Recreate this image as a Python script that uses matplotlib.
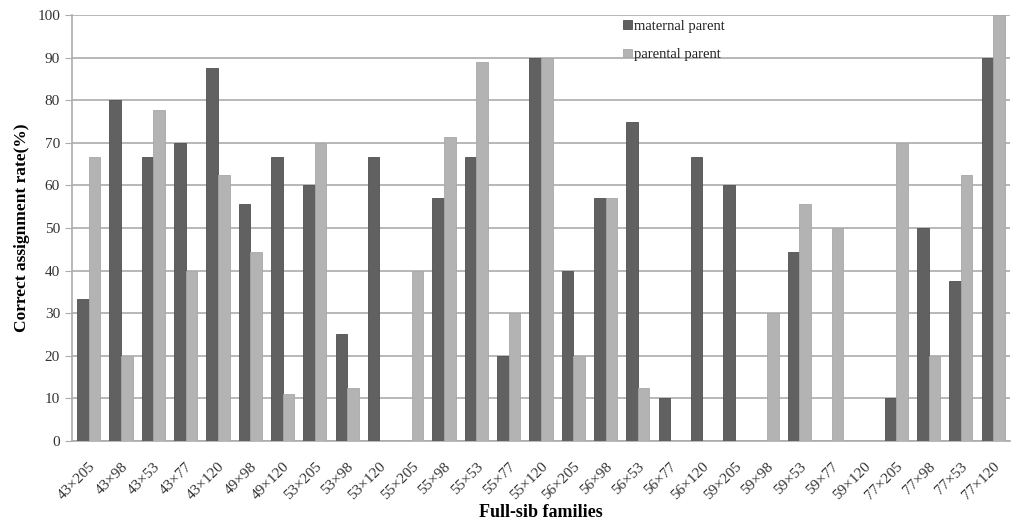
import matplotlib
matplotlib.use("Agg")
import matplotlib.pyplot as plt
import numpy as np

families = ['43×205', '43×98', '43×53', '43×77', '43×120', '49×98', '49×120',
            '53×205', '53×98', '53×120', '55×205', '55×98', '55×53', '55×77',
            '55×120', '56×205', '56×98', '56×53', '56×77', '56×120', '59×205',
            '59×98', '59×53', '59×77', '59×120', '77×205', '77×98', '77×53',
            '77×120']
maternal = [33.3, 80, 66.7, 70, 87.5, 55.6, 66.7, 60, 25, 66.7, 0, 57.1, 66.7, 20,
            90, 40, 57.1, 75, 10, 66.7, 60, 0, 44.4, 0, 0, 10, 50, 37.5, 90]
parental = [66.7, 20, 77.8, 40, 62.5, 44.4, 11.1, 70, 12.5, 0, 40, 71.4, 88.9, 30,
            90, 20, 57.1, 12.5, 0, 0, 0, 30, 55.6, 50, 0, 70, 20, 62.5, 100]

plt.rcParams['font.family'] = ['Liberation Serif', 'DejaVu Serif']

fig = plt.figure(figsize=(10.13, 5.23), dpi=100)
ax = fig.add_axes([0.071, 0.157, 0.926, 0.814])

x = np.arange(len(families))
w = 0.36
ax.bar(x - w / 2, maternal, w, color='#616161', edgecolor='#505050', linewidth=0.6,
       label='maternal parent', zorder=3)
ax.bar(x + w / 2, parental, w, color='#b3b3b3', edgecolor='#a8a8a8', linewidth=0.6,
       label='parental parent', zorder=3)

ax.set_xlim(-0.52, len(families) - 0.48)
ax.set_ylim(0, 100)
ax.set_yticks(range(0, 101, 10))
ax.yaxis.grid(True, color='#ababab', linewidth=1.2, zorder=0)
ax.set_axisbelow(True)
ax.set_xticks(x)
ax.set_xticklabels(families, rotation=45, ha='right', rotation_mode='anchor',
                   fontsize=11, color='#333333')
ax.tick_params(axis='x', length=0, pad=14)
ax.tick_params(axis='y', length=5, color='#ababab', labelsize=11, labelcolor='#333333')

for s in ['top', 'right']:
    ax.spines[s].set_visible(False)
ax.spines['left'].set_color('#ababab')
ax.spines['bottom'].set_color('#ababab')
ax.spines['left'].set_linewidth(1.2)
ax.spines['bottom'].set_linewidth(1.2)

ax.set_ylabel('Correct assignment rate(%)', fontsize=12.5, fontweight='bold', labelpad=5)
ax.set_xlabel('Full-sib families', fontsize=13, fontweight='bold', labelpad=1)

ax.legend(loc='upper left', bbox_to_anchor=(0.574, 1.02), frameon=False,
          fontsize=10.5, handlelength=0.55, handleheight=0.55, handletextpad=0.15,
          labelspacing=1.05, labelcolor='#222222')

fig.savefig('out.png', dpi=100)
